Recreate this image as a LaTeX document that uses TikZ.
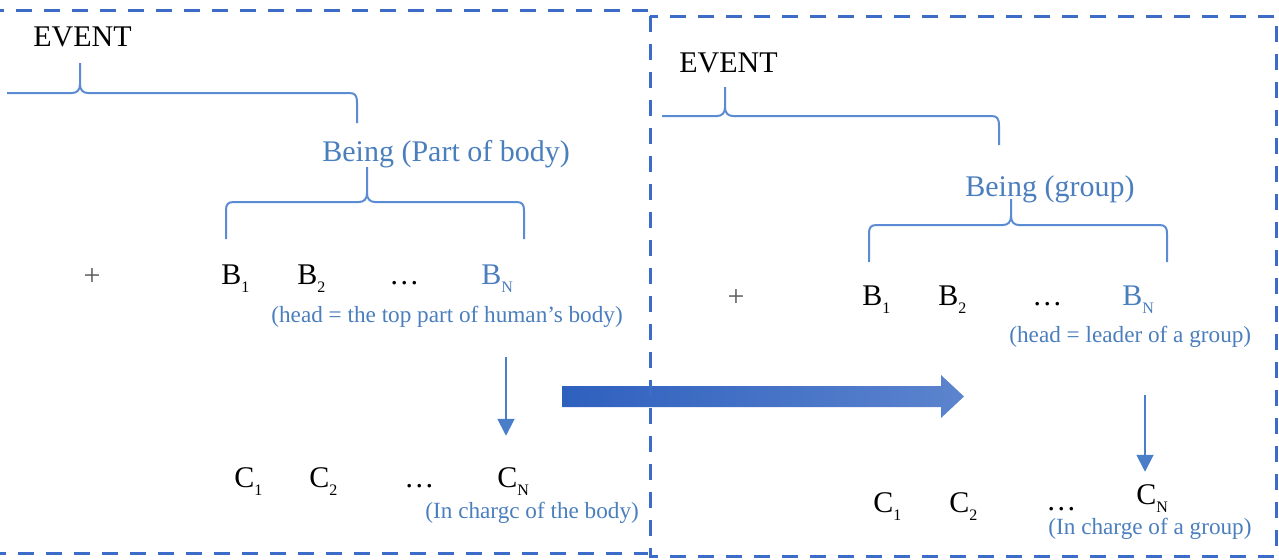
\documentclass[tikz,border=0pt]{standalone}
\usepackage{fontspec}
\setmainfont{Liberation Serif}
\usetikzlibrary{arrows.meta}
\definecolor{framecol}{RGB}{61,108,200}
\definecolor{bracecol}{RGB}{91,139,210}
\definecolor{notecol}{RGB}{74,126,189}
\definecolor{arrcol}{RGB}{74,126,200}
\definecolor{bigleft}{RGB}{46,96,190}
\definecolor{bigright}{RGB}{92,132,206}
% lowered index, as in B_1, C_N
\newcommand\idx[1]{\raisebox{-4pt}{\fontsize{8}{9}\selectfont #1}}
\tikzset{
  frame/.style={draw=framecol, line width=1.5pt, dash pattern=on 8pt off 6pt},
  brace/.style={draw=bracecol, line width=1pt},
  lbl/.style={inner sep=0pt, anchor=base west, font=\fontsize{15}{18}\selectfont},
  note/.style={lbl, text=notecol, font=\fontsize{11.6}{14}\selectfont},
  plus/.style={inner sep=0pt, text=black!65, font=\fontsize{15}{18}\selectfont},
  downarr/.style={draw=arrcol, line width=1pt, -{Triangle[length=8.5pt,width=8.5pt]}},
}

\begin{document}
\begin{tikzpicture}[x=0.5pt,y=-0.5pt]
\useasboundingbox (0,0) rectangle (1279,559);

%% big arrow between the two cases
\shade[left color=bigleft, right color=bigright]
  (562,386) -- (941,386) -- (941,375) -- (964,396.5) --
  (941,418) -- (941,407) -- (562,407) -- cycle;

%% frames
\draw[frame] (648,10) -- (-10,10) (-10,553) -- (648,553);
\draw[frame] (650,16) rectangle (1276,556);

%% ---- left: part of body ----
\node[lbl] (evL) at (33,46) {EVENT};
\draw[brace] (7,93) -- (72,93) .. controls (77,93) and (80,90) .. (80,84) -- (80,63);
\draw[brace] (80,84) .. controls (80,90) and (83,93) .. (88,93) -- (349,93)
  .. controls (355,93) and (357,95) .. (357,103) -- (357,123);
\node[lbl, text=notecol] (beingL) at (322,161) {Being (Part of body)};
\draw[brace] (226,239) -- (226,211) .. controls (226,204) and (228,202) .. (234,202)
  -- (359,202) .. controls (364,202) and (367,199) .. (367,193) -- (367,167);
\draw[brace] (367,193) .. controls (367,199) and (370,202) .. (375,202) -- (516,202)
  .. controls (522,202) and (524,204) .. (524,211) -- (524,239);

\node[plus] (plusL) at (92,277) {+};
\node[lbl] (bL1) at (221,284) {B\idx{1}};
\node[lbl] (bL2) at (297,284) {B\idx{2}};
\node[lbl] (bdotsL) at (389,284) {…};
\node[lbl, text=notecol] (bLN) at (481,284) {B\idx{N}};
\node[note] (headL) at (271,322) {(head = the top part of human’s body)};

\node[lbl] (cL1) at (234,487) {C\idx{1}};
\node[lbl] (cL2) at (309,487) {C\idx{2}};
\node[lbl] (cdotsL) at (404,487) {…};
\node[lbl] (cLN) at (497,487) {C\idx{N}};
\node[note] (chargeL) at (425,518) {(In chargc of the body)};

\coordinate (tailL) at (506,357);
\draw[downarr, shorten >=15.5pt] (tailL) -- (tailL |- cLN.north);

%% ---- right: group ----
\node[lbl] (evR) at (679,72) {EVENT};
\draw[brace] (662,116) -- (717,116) .. controls (722,116) and (725,113) .. (725,107) -- (725,87);
\draw[brace] (725,107) .. controls (725,113) and (728,116) .. (733,116) -- (991,116)
  .. controls (997,116) and (999,118) .. (999,126) -- (999,145);
\node[lbl, text=notecol] (beingR) at (965,196) {Being (group)};
\draw[brace] (869,262) -- (869,234) .. controls (869,227) and (871,225) .. (877,225)
  -- (1003,225) .. controls (1008,225) and (1011,222) .. (1011,216) -- (1011,199);
\draw[brace] (1011,216) .. controls (1011,222) and (1014,225) .. (1019,225) -- (1159,225)
  .. controls (1165,225) and (1167,227) .. (1167,234) -- (1167,262);

\node[plus] (plusR) at (736,298) {+};
\node[lbl] (bR1) at (862,305) {B\idx{1}};
\node[lbl] (bR2) at (938,305) {B\idx{2}};
\node[lbl] (bdotsR) at (1032,305) {…};
\node[lbl, text=notecol] (bRN) at (1122,305) {B\idx{N}};
\node[note] (headR) at (1009,342) {(head = leader of a group)};

\node[lbl] (cR1) at (873,512) {C\idx{1}};
\node[lbl] (cR2) at (949,512) {C\idx{2}};
\node[lbl] (cdotsR) at (1046,510) {…};
\node[lbl] (cRN) at (1136,504) {C\idx{N}};
\node[note] (chargeR) at (1048,534) {(In charge of a group)};

\coordinate (tailR) at (1145,395);
\draw[downarr, shorten >=6pt] (tailR) -- (tailR |- cRN.north);
\end{tikzpicture}
\end{document}
